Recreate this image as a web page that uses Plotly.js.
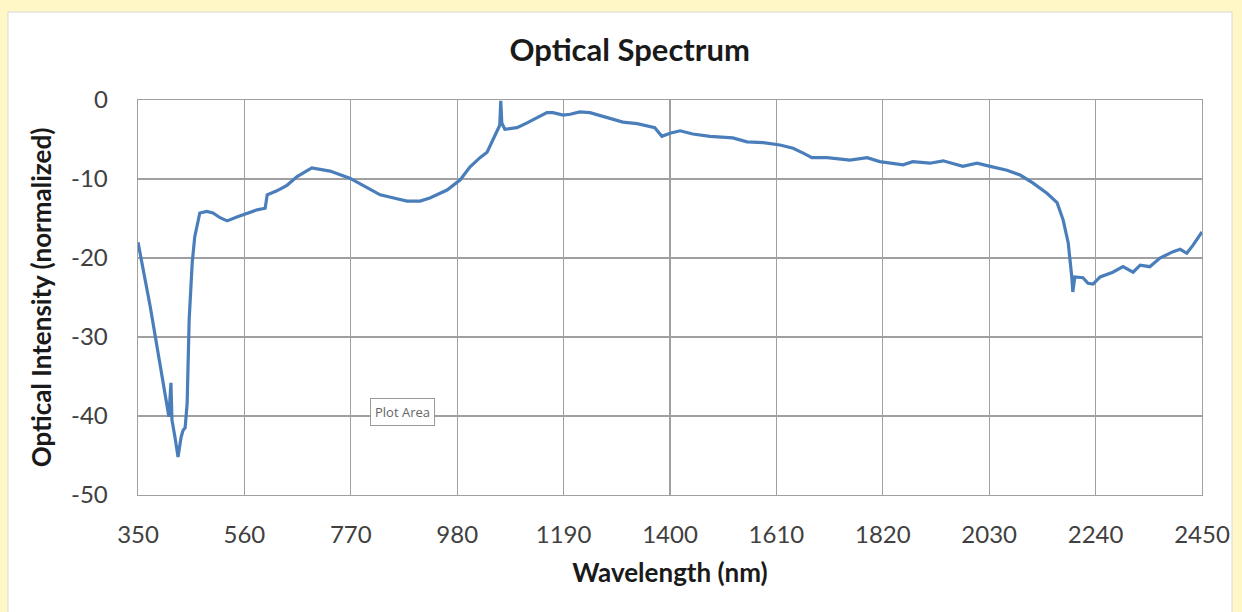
<!DOCTYPE html>
<html>
<head>
<meta charset="utf-8">
<script src="https://cdn.plot.ly/plotly-3.0.1.min.js"></script>
<style>
  html, body { margin: 0; padding: 0; background: #fff8c6; }
  #chart { width: 1242px; height: 612px; }
</style>
</head>
<body>
<div id="chart"></div>
<script>
// Wavelength (nm)
const wavelength = [350, 374, 393, 407, 411, 415, 417, 423, 429, 435, 439, 443, 447, 451, 457, 462, 472, 486, 498, 512, 526, 545, 565, 585, 601, 603, 605, 624, 644, 664, 684, 693, 729, 768, 794, 828, 861, 881, 907, 926, 960, 986, 1005, 1025, 1039, 1049, 1059, 1064, 1066, 1068, 1074, 1098, 1118, 1137, 1157, 1169, 1189, 1203, 1222, 1242, 1276, 1307, 1335, 1361, 1370, 1384, 1400, 1420, 1445, 1479, 1524, 1552, 1584, 1617, 1643, 1662, 1680, 1710, 1755, 1789, 1814, 1860, 1879, 1913, 1939, 1978, 2006, 2032, 2065, 2091, 2116, 2144, 2164, 2176, 2186, 2193, 2195, 2199, 2205, 2215, 2225, 2235, 2249, 2274, 2294, 2314, 2328, 2347, 2367, 2393, 2407, 2420, 2432, 2450];
// Optical intensity (normalized)
const intensity = [-18.0, -26.1, -33.3, -38.4, -40.1, -35.8, -40.5, -42.7, -45.2, -42.7, -41.8, -41.5, -38.4, -27.8, -20.6, -17.3, -14.3, -14.1, -14.3, -14.9, -15.3, -14.8, -14.3, -13.9, -13.7, -12.4, -12.0, -11.5, -10.8, -9.7, -8.9, -8.6, -9.0, -9.9, -10.8, -12.0, -12.5, -12.8, -12.8, -12.4, -11.4, -10.1, -8.5, -7.3, -6.6, -5.3, -3.8, -3.2, -0.1, -2.9, -3.7, -3.5, -2.9, -2.3, -1.6, -1.6, -1.9, -1.8, -1.5, -1.6, -2.2, -2.8, -3.0, -3.3, -3.5, -4.6, -4.2, -3.9, -4.3, -4.6, -4.8, -5.3, -5.4, -5.7, -6.1, -6.7, -7.3, -7.3, -7.6, -7.3, -7.8, -8.2, -7.8, -8.0, -7.7, -8.4, -8.0, -8.4, -8.9, -9.5, -10.5, -11.8, -13.0, -15.2, -18.1, -22.4, -24.3, -22.4, -22.4, -22.5, -23.2, -23.3, -22.4, -21.8, -21.1, -21.8, -20.9, -21.1, -20.0, -19.2, -18.9, -19.4, -18.4, -16.7];

const xTicks = [350, 560, 770, 980, 1190, 1400, 1610, 1820, 2030, 2240, 2450];
const yTicks = [0, -10, -20, -30, -40, -50];

const chartTitle = "Optical Spectrum";
const xTitle = "Wavelength (nm)";
const yTitle = "Optical Intensity (normalized)";

const FONT = "Lato, 'Open Sans', sans-serif";

const trace = {
  x: wavelength,
  y: intensity,
  type: "scatter",
  mode: "lines",
  line: { color: "#4a7ebb", width: 3.2, shape: "linear" },
  hoverinfo: "x+y",
  showlegend: false
};

const layout = {
  width: 1242,
  height: 612,
  paper_bgcolor: "#fff8c6",
  plot_bgcolor: "#ffffff",
  margin: { l: 138, r: 40, t: 100, b: 117, pad: 0 },
  title: {
    text: "<b>" + chartTitle + "</b>",
    font: { family: FONT, size: 31, color: "#1a1a1a" },
    x: 0.507, xanchor: "center",
    y: 0.918, yanchor: "middle"
  },
  xaxis: {
    range: [350, 2450],
    tickmode: "array",
    tickvals: xTicks,
    ticktext: xTicks.map(String),
    showgrid: true,
    gridcolor: "#a0a0a0",
    gridwidth: 1.4,
    zeroline: false,
    showline: true,
    linecolor: "#a0a0a0",
    linewidth: 1.4,
    mirror: true,
    ticks: "",
    ticklabelstandoff: 18,
    tickfont: { family: FONT, size: 24, color: "#404040" },
    title: {
      text: "<b>" + xTitle + "</b>",
      font: { family: FONT, size: 26, color: "#1a1a1a" },
      standoff: 16
    }
  },
  yaxis: {
    range: [-50, 0],
    tickmode: "array",
    tickvals: yTicks,
    ticktext: yTicks.map(String),
    showgrid: true,
    gridcolor: "#a0a0a0",
    gridwidth: 1.4,
    zeroline: false,
    showline: true,
    linecolor: "#a0a0a0",
    linewidth: 1.4,
    mirror: true,
    ticks: "",
    ticklabelstandoff: 24,
    tickfont: { family: FONT, size: 24, color: "#404040" },
    title: {
      text: "<b>" + yTitle + "</b>",
      font: { family: FONT, size: 26, color: "#1a1a1a" },
      standoff: 12
    }
  },
  shapes: [
    {
      type: "rect", xref: "paper", yref: "paper",
      x0: -0.1222, x1: 1.0282, y0: -0.32, y1: 1.2228,
      fillcolor: "#ffffff",
      line: { color: "#d8d8d8", width: 1 },
      layer: "below"
    }
  ],
  annotations: [
    {
      xref: "paper", yref: "paper",
      x: 0.249, y: 0.210,
      xanchor: "center", yanchor: "middle",
      text: "Plot Area",
      showarrow: false,
      font: { family: "'Open Sans', sans-serif", size: 13, color: "#666666" },
      bgcolor: "#ffffff",
      bordercolor: "#9a9a9a",
      borderwidth: 1,
      borderpad: 4
    }
  ]
};

Plotly.newPlot("chart", [trace], layout, { displayModeBar: false, staticPlot: true });
</script>
</body>
</html>
